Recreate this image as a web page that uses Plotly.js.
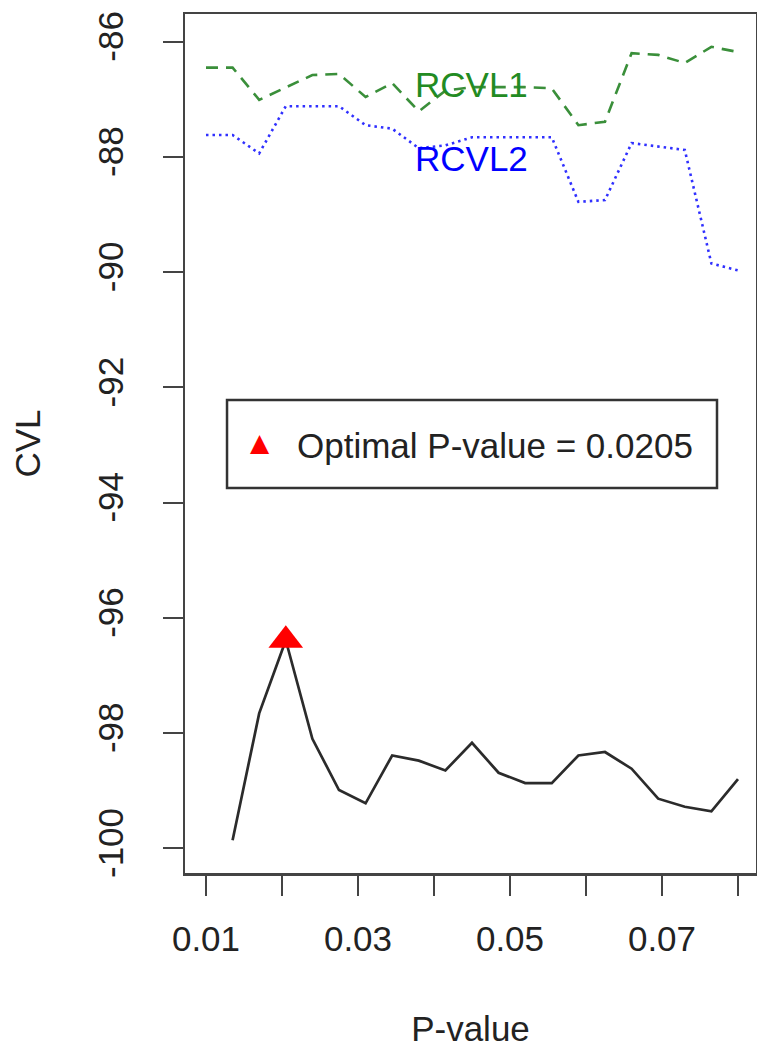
<!DOCTYPE html>
<html>
<head>
<meta charset="utf-8">
<script src="https://cdn.plot.ly/plotly-3.0.1.min.js"></script>
<style>
  html, body { margin: 0; padding: 0; background: #ffffff; }
  #chart { width: 757px; height: 1048px; }
</style>
</head>
<body>
<div id="chart"></div>
<script>
// ---- Data ----
const pValues = [0.01, 0.0135, 0.017, 0.0205, 0.024, 0.0275, 0.031, 0.0345, 0.038, 0.0415,
                 0.045, 0.0485, 0.052, 0.0555, 0.059, 0.0625, 0.066, 0.0695, 0.073, 0.0765, 0.08];
const cvl   = [null, -99.86, -97.66, -96.39, -98.10, -98.99, -99.22, -98.39, -98.48, -98.65,
               -98.17, -98.69, -98.87, -98.87, -98.39, -98.33, -98.62, -99.14, -99.28, -99.36, -98.80];
const rcvl1 = [-86.45, -86.45, -87.01, -86.80, -86.58, -86.56, -86.96, -86.72, -87.21, -86.85,
               -86.79, -86.79, -86.79, -86.81, -87.45, -87.39, -86.20, -86.23, -86.37, -86.09, -86.18];
const rcvl2 = [-87.62, -87.62, -87.94, -87.12, -87.12, -87.12, -87.45, -87.51, -87.85, -87.80,
               -87.66, -87.66, -87.66, -87.66, -88.78, -88.75, -87.76, -87.82, -87.88, -89.85, -89.97];
const optimalP = [0.0205];
const optimalCVL = [-96.39];
const optimalLabel = 'Optimal P-value = 0.0205';

const xTickVals = [0.01, 0.02, 0.03, 0.04, 0.05, 0.06, 0.07, 0.08];
const xTickText = ['0.01', '', '0.03', '', '0.05', '', '0.07', ''];
const yTickVals = [-100, -98, -96, -94, -92, -90, -88, -86];
const yTickText = ['-100', '-98', '-96', '-94', '-92', '-90', '-88', '-86'];

const seriesLabels = [
  {text: 'RCVL1', x: 0.045, y: -86.75, color: '#228B22'},
  {text: 'RCVL2', x: 0.045, y: -88.02, color: '#0000FF'}
];

// ---- Styles ----
const FONT = 'Liberation Sans, Arial, sans-serif';
const FS = 35;
const TXT = '#222222';
const AX = '#444444';

const traces = [
  {x: pValues, y: rcvl1, type: 'scatter', mode: 'lines', name: 'RCVL1',
   line: {color: '#3a8f3a', width: 2.6, dash: '12px,8px'}, showlegend: false, hoverinfo: 'skip'},
  {x: pValues, y: rcvl2, type: 'scatter', mode: 'lines', name: 'RCVL2',
   line: {color: '#3030ff', width: 2.6, dash: '2.5px,4px'}, showlegend: false, hoverinfo: 'skip'},
  {x: pValues, y: cvl, type: 'scatter', mode: 'lines', name: 'CVL',
   line: {color: '#2b2b2b', width: 2.7}, connectgaps: false, showlegend: false, hoverinfo: 'skip'},
  {x: optimalP, y: optimalCVL, type: 'scatter', mode: 'markers', name: optimalLabel,
   marker: {symbol: 'triangle-up', size: 30, color: '#ff0000', line: {width: 0}},
   showlegend: false, cliponaxis: false}
];

const annotations = seriesLabels.map(s => ({
  x: s.x, y: s.y, xref: 'x', yref: 'y', text: s.text, showarrow: false,
  font: {family: FONT, size: FS, color: s.color}, xanchor: 'center', yanchor: 'middle'
}));

// legend box (drawn like R's legend())
annotations.push({
  xref: 'paper', yref: 'paper', x: 0.1313, y: 0.5017, text: '\u25B2', showarrow: false,
  font: {family: 'DejaVu Sans', size: 25, color: '#ff0000'}, xanchor: 'center', yanchor: 'middle'
});
annotations.push({
  xref: 'paper', yref: 'paper', x: 0.1926, y: 0.4971, text: optimalLabel, showarrow: false,
  font: {family: FONT, size: FS, color: TXT}, xanchor: 'left', yanchor: 'middle'
});

const layout = {
  width: 757, height: 1048,
  margin: {l: 185, r: 1, t: 14, b: 175, pad: 0},
  paper_bgcolor: '#ffffff', plot_bgcolor: '#ffffff',
  showlegend: false,
  font: {family: FONT, size: FS, color: TXT},
  xaxis: {
    range: [0.00724, 0.08237],
    tickvals: xTickVals, ticktext: xTickText,
    ticks: 'outside', ticklen: 20, tickwidth: 2, tickcolor: AX,
    showline: true, mirror: true, linecolor: AX, linewidth: 2.5,
    showgrid: false, zeroline: false,
    tickfont: {family: FONT, size: FS, color: TXT},
    ticklabelstandoff: 13,
    title: {text: 'P-value', font: {family: FONT, size: FS, color: TXT}, standoff: 64},
    automargin: false
  },
  yaxis: {
    range: [-100.43, -85.52],
    tickvals: yTickVals, ticktext: yTickText,
    ticks: 'outside', ticklen: 20, tickwidth: 2, tickcolor: AX,
    showline: true, mirror: true, linecolor: AX, linewidth: 2.5,
    showgrid: false, zeroline: false,
    tickangle: -90,
    tickfont: {family: FONT, size: FS, color: TXT},
    ticklabelstandoff: 26,
    title: {text: 'CVL', font: {family: FONT, size: FS, color: TXT}, standoff: 40},
    automargin: false
  },
  shapes: [{
    type: 'rect', xref: 'paper', yref: 'paper',
    x0: 0.0736, x1: 0.9317, y0: 0.4482, y1: 0.5506,
    line: {color: '#333333', width: 2.5}, fillcolor: 'rgba(0,0,0,0)'
  }],
  annotations: annotations
};

Plotly.newPlot('chart', traces, layout, {staticPlot: true, displayModeBar: false});
</script>
</body>
</html>
